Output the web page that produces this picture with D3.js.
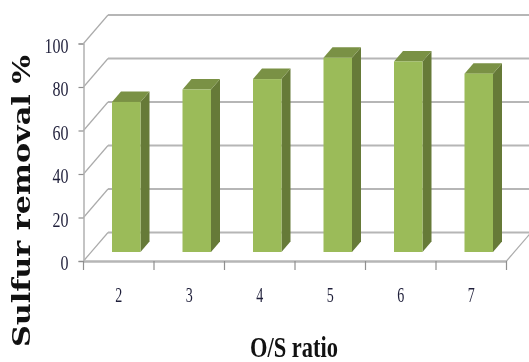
<!DOCTYPE html>
<html>
<head>
<meta charset="utf-8">
<script src="https://cdn.jsdelivr.net/npm/d3@7"></script>
<style>
  html, body { margin: 0; padding: 0; background: #fff; }
  svg { display: block; filter: blur(0.5px); }
  text { font-family: "Liberation Serif", serif; }
</style>
</head>
<body>
<div id="chart"></div>
<script>
// Fake-3D column chart: back wall + left wall + floor, columns sit mid-depth.
const categories = ["2", "3", "4", "5", "6", "7"];
const removal = [69, 74.7, 79.5, 89.3, 87.6, 82];
const yTicks = [0, 20, 40, 60, 80, 100];

const width = 529, height = 362;

// Front plane of the chart box
const x = d3.scaleBand().domain(categories).range([83.5, 506.5]);
const y = d3.scaleLinear().domain([0, 100]).range([261, 43.5]);

// Depth of the box and of the columns
const wall = { dx: 24.5, dy: -28.5 };
const col = { shiftX: 7.5, shiftY: -9, width: 28.5, dx: 9, dy: -10.5 };

const svg = d3.select("#chart").append("svg")
  .attr("width", width)
  .attr("height", height)
  .attr("viewBox", `0 0 ${width} ${height}`);

// Back wall gridlines (clipped by the window edge on the right)
svg.append("g").selectAll("line")
  .data(yTicks.slice(1).concat(0))
  .join("line")
  .attr("x1", x.range()[0] + wall.dx)
  .attr("x2", width)
  .attr("y1", d => y(d) + wall.dy)
  .attr("y2", d => y(d) + wall.dy)
  .attr("stroke", "#b6b6b6")
  .attr("stroke-width", 2.2);

// Left wall diagonals
svg.append("g").selectAll("line")
  .data(yTicks)
  .join("line")
  .attr("x1", x.range()[0])
  .attr("x2", x.range()[0] + wall.dx)
  .attr("y1", d => y(d))
  .attr("y2", d => y(d) + wall.dy)
  .attr("stroke", "#ababab")
  .attr("stroke-width", 1.2);

// Floor right edge
svg.append("line")
  .attr("x1", x.range()[1])
  .attr("x2", x.range()[1] + wall.dx)
  .attr("y1", y(0))
  .attr("y2", y(0) + wall.dy)
  .attr("stroke", "#ababab")
  .attr("stroke-width", 1.2);

// Axes
const yAxisG = svg.append("g")
  .attr("transform", `translate(${x.range()[0]},0)`)
  .call(d3.axisLeft(y).tickValues(yTicks).tickSize(5).tickPadding(10));

const xAxisG = svg.append("g")
  .attr("transform", `translate(0,${y(0)})`)
  .call(d3.axisBottom(x).tickSize(0).tickPadding(26));

// Category ticks fall on the band edges, not the centres
xAxisG.selectAll(".edge")
  .data(categories.map(d => x(d)).concat(x.range()[1]))
  .join("line")
  .attr("class", "edge")
  .attr("x1", d => d).attr("x2", d => d)
  .attr("y1", 0).attr("y2", 9)
  .attr("stroke", "#8f8f8f")
  .attr("stroke-width", 1.2);

yAxisG.selectAll("line").attr("stroke", "#8f8f8f").attr("stroke-width", 1.2);
yAxisG.select(".domain").attr("stroke", "#b6b6b6").attr("stroke-width", 1.6);
xAxisG.select(".domain").attr("stroke", "#b6b6b6").attr("stroke-width", 2.4);

yAxisG.selectAll("text")
  .attr("font-size", 22)
  .attr("font-family", "Liberation Serif")
  .attr("fill", "#1f1f3a")
  .attr("dy", "0.4em")
  .attr("textLength", d => String(d).length * 8)
  .attr("lengthAdjust", "spacingAndGlyphs");

xAxisG.selectAll("text")
  .attr("font-size", 21)
  .attr("font-family", "Liberation Serif")
  .attr("fill", "#1f1f3a")
  .attr("textLength", 7)
  .attr("lengthAdjust", "spacingAndGlyphs");

// Columns
const barX = d => x(d) + x.bandwidth() / 2 - col.width / 2 + col.shiftX;
const barTop = v => y(v) + col.shiftY;
const bars = svg.append("g").selectAll("g")
  .data(categories.map((c, i) => ({ c, v: removal[i] })))
  .join("g");

bars.append("path") // side
  .attr("fill", "#667a38")
  .attr("d", d => {
    const x1 = barX(d.c) + col.width, t = barTop(d.v), b = barTop(0);
    return `M${x1},${t}L${x1 + col.dx},${t + col.dy}L${x1 + col.dx},${b + col.dy}L${x1},${b}Z`;
  });

bars.append("path") // top
  .attr("fill", "#7a9145")
  .attr("d", d => {
    const x0 = barX(d.c), t = barTop(d.v);
    return `M${x0},${t}L${x0 + col.dx},${t + col.dy}L${x0 + col.width + col.dx},${t + col.dy}L${x0 + col.width},${t}Z`;
  });

bars.append("rect") // front
  .attr("fill", "#9bbb59")
  .attr("x", d => barX(d.c))
  .attr("y", d => barTop(d.v))
  .attr("width", col.width)
  .attr("height", d => barTop(0) - barTop(d.v));

// Axis titles
svg.append("text")
  .attr("transform", "translate(30,347) rotate(-90)")
  .style("font-family", "'DejaVu Serif', serif")
  .attr("font-size", 24)
  .attr("font-weight", "bold")
  .attr("fill", "#111")
  .attr("textLength", 292)
  .attr("lengthAdjust", "spacingAndGlyphs")
  .text("Sulfur removal %");

svg.append("text")
  .attr("x", 250)
  .attr("y", 357)
  .attr("font-size", 30)
  .attr("font-weight", "bold")
  .attr("fill", "#111")
  .attr("textLength", 88)
  .attr("lengthAdjust", "spacingAndGlyphs")
  .text("O/S ratio");
</script>
</body>
</html>
